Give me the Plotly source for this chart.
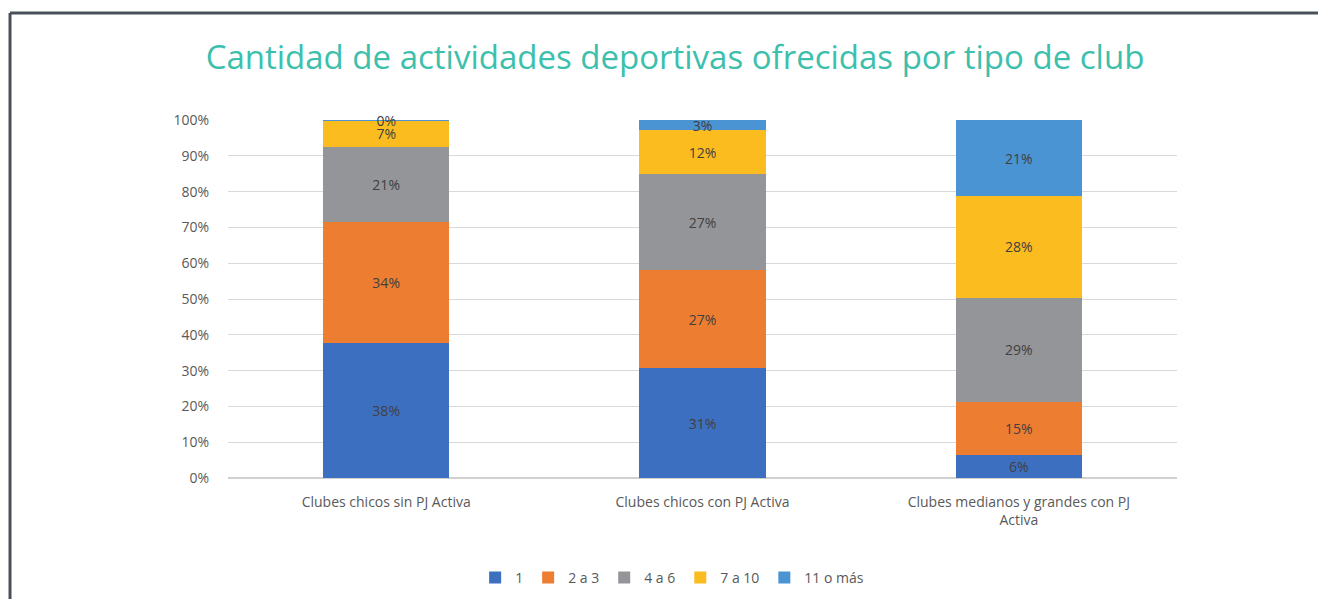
import plotly.graph_objects as go

categories = ["Clubes chicos sin PJ Activa", "Clubes chicos con PJ Activa",
              "Clubes medianos y grandes con PJ<br>Activa"]
series_names = ["1", "2 a 3", "4 a 6", "7 a 10", "11 o más"]
v_1 = [37.7, 30.7, 6.4]
v_2a3 = [33.8, 27.4, 14.9]
v_4a6 = [21.0, 26.8, 29.1]
v_7a10 = [7.4, 12.3, 28.4]
v_11mas = [0.05, 2.75, 21.1]
colors = ["#3d6fc1", "#ed7d31", "#939598", "#fbbc1f", "#4a94d4"]
y_ticks = list(range(0, 101, 10))
y_ticktext = [f"{t}%" for t in y_ticks]

values = [v_1, v_2a3, v_4a6, v_7a10, v_11mas]

fig = go.Figure()
for name, vals, col in zip(series_names, values, colors):
    fig.add_trace(go.Bar(
        x=categories, y=vals, name=name, marker=dict(color=col, line=dict(width=0)),
        text=[f"{round(v)}%" for v in vals], textposition="inside",
        insidetextanchor="middle", textangle=0,
        textfont=dict(family="Open Sans", size=14, color="#404040"),
        constraintext="none", cliponaxis=False,
    ))

fig.update_layout(
    barmode="stack", bargap=0.6,
    width=1326, height=599,
    margin=dict(l=220, r=157, t=112, b=129, autoexpand=False),
    paper_bgcolor="white", plot_bgcolor="white",
    title=dict(text="Cantidad de actividades deportivas ofrecidas por tipo de club",
               x=0.503, xanchor="center", y=0.918, yanchor="middle",
               font=dict(family="Open Sans", size=33, color="#3dbfad")),
    legend=dict(orientation="h", x=0.468, xanchor="center", y=-0.279, yanchor="middle",
                font=dict(family="Open Sans", size=14, color="#595959"),
                itemwidth=30, traceorder="normal"),
    xaxis=dict(showgrid=False, showline=False, ticks="", ticklabelstandoff=14,
               tickfont=dict(family="Open Sans", size=14, color="#595959")),
    yaxis=dict(range=[0, 100], tickvals=y_ticks, ticktext=y_ticktext,
               showgrid=True, gridcolor="#d9d9d9", gridwidth=1,
               zeroline=True, zerolinecolor="#d0d0d0", ticks="", ticklabelstandoff=18,
               tickfont=dict(family="Open Sans", size=14, color="#595959")),
)

# frame (top and left edges of the cropped panel)
fig.add_shape(type="line", xref="paper", yref="paper", x0=-0.2297, x1=1.2, y0=1.2989, y1=1.2989,
              line=dict(color="#4a5059", width=3))
fig.add_shape(type="line", xref="paper", yref="paper", x0=-0.2297, x1=-0.2297, y0=1.2989, y1=-0.4,
              line=dict(color="#4a5059", width=3))

fig.write_html("out.html")
